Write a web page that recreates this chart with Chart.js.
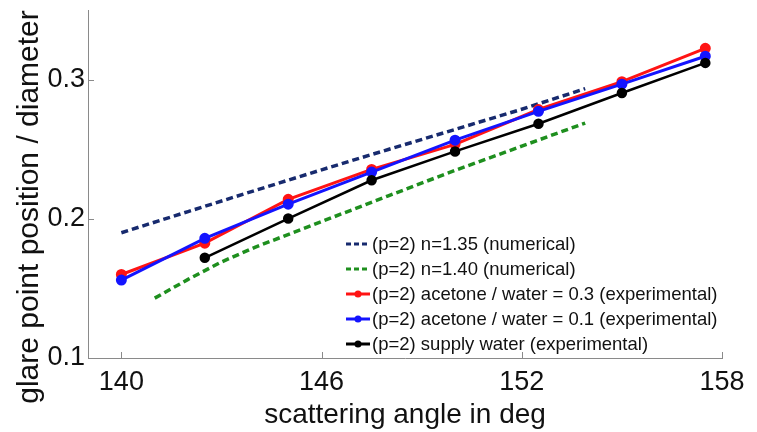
<!DOCTYPE html>
<html>
<head>
<meta charset="utf-8">
<script src="https://cdn.jsdelivr.net/npm/chart.js@4.4.1/dist/chart.umd.min.js"></script>
<style>
  html, body { margin: 0; padding: 0; background: #fff; }
  #wrap { position: relative; width: 757px; height: 432px; }
  #legend {
    position: absolute; left: 345px; top: 231px;
    font-family: "Liberation Sans", Arial, sans-serif; font-size: 18.5px; color: #111;
  }
  .row { display: flex; align-items: center; height: 25px; white-space: nowrap; }
  .row svg { margin-right: 1px; }
</style>
</head>
<body>
<div id="wrap">
  <canvas id="glareChart" width="757" height="432"></canvas>
  <div id="legend"></div>
</div>
<script>
// scattering angles of the measurements
const expAngle = [140, 142.5, 145, 147.5, 150, 152.5, 155, 157.5];
const acetone03 = [0.160, 0.1825, 0.214, 0.2355, 0.2535, 0.2785, 0.2985, 0.3225];
const acetone01 = [0.156, 0.186, 0.2105, 0.2336, 0.2565, 0.2772, 0.2967, 0.3168];
const supplyWater = [null, 0.172, 0.2002, 0.2277, 0.2484, 0.2683, 0.2904, 0.312];

// numerical curves
const n135Angle = [140, 142, 144, 146, 148, 150, 152, 153.9];
const n135 = [0.190, 0.2052, 0.2203, 0.2352, 0.2498, 0.2642, 0.2787, 0.2935];
const n140Angle = [141, 142, 143, 144, 146, 148, 150, 152, 153.9];
const n140 = [0.143, 0.1565, 0.169, 0.1795, 0.198, 0.2165, 0.2348, 0.2522, 0.2688];

const xTicks = [140, 146, 152, 158];
const yTicks = [0.1, 0.2, 0.3];

const labels = [
  '(p=2) n=1.35 (numerical)',
  '(p=2) n=1.40 (numerical)',
  '(p=2) acetone / water = 0.3 (experimental)',
  '(p=2) acetone / water = 0.1 (experimental)',
  '(p=2) supply water (experimental)'
];
const colors = ['#172a6e', '#1e8f1e', '#ff1414', '#1414ff', '#000000'];

const pts = (xs, ys) => xs.map((x, i) => ({ x: x, y: ys[i] }));

const FONT = '"Liberation Sans", Arial, sans-serif';

// small inward tick marks, matlab style
const innerTicks = {
  id: 'innerTicks',
  afterDraw(chart) {
    const c = chart.ctx, xs = chart.scales.x, ys = chart.scales.y;
    const a = chart.chartArea;
    c.save();
    c.strokeStyle = '#8a8a8a';
    c.lineWidth = 1;
    c.beginPath();
    xs.ticks.forEach(t => {
      const px = Math.round(xs.getPixelForValue(t.value)) + 0.5;
      c.moveTo(px, a.bottom); c.lineTo(px, a.bottom - 6);
    });
    ys.ticks.forEach(t => {
      const py = Math.round(ys.getPixelForValue(t.value)) + 0.5;
      c.moveTo(a.left, py); c.lineTo(a.left + 6, py);
    });
    c.stroke();
    // y axis title
    c.fillStyle = '#111';
    c.font = '30px ' + FONT;
    c.textAlign = 'center';
    c.textBaseline = 'middle';
    c.translate(30, 207);
    c.rotate(-Math.PI / 2);
    c.fillText('glare point position / diameter', 0, 0);
    c.restore();
  }
};

const dashed = [7, 4];
const ctx = document.getElementById('glareChart').getContext('2d');
const chart = new Chart(ctx, {
  type: 'line',
  data: {
    datasets: [
      { label: labels[0], data: pts(n135Angle, n135), borderColor: colors[0], borderWidth: 3.5, borderDash: dashed, pointRadius: 0, order: 5 },
      { label: labels[1], data: pts(n140Angle, n140), borderColor: colors[1], borderWidth: 3.5, borderDash: dashed, pointRadius: 0, order: 4 },
      { label: labels[2], data: pts(expAngle, acetone03), borderColor: colors[2], backgroundColor: colors[2], borderWidth: 3, pointRadius: 4, order: 3 },
      { label: labels[3], data: pts(expAngle, acetone01), borderColor: colors[3], backgroundColor: colors[3], borderWidth: 3, pointRadius: 4, order: 2 },
      { label: labels[4], data: pts(expAngle, supplyWater), borderColor: colors[4], backgroundColor: colors[4], borderWidth: 2.5, pointRadius: 4, order: 1 }
    ]
  },
  options: {
    responsive: false,
    animation: false,
    devicePixelRatio: 1,
    layout: { padding: { top: 10, right: 35, left: 0, bottom: 0 } },
    plugins: { legend: { display: false }, tooltip: { enabled: false } },
    elements: { line: { tension: 0 }, point: { borderWidth: 0 } },
    scales: {
      x: {
        type: 'linear', min: 139, max: 158,
        afterBuildTicks: s => { s.ticks = xTicks.map(v => ({ value: v })); },
        afterFit: s => { s.height = 74; },
        grid: { display: false, drawTicks: false },
        border: { display: true, color: '#8a8a8a', width: 1 },
        ticks: { font: { family: FONT, size: 27 }, color: '#111', padding: 8, maxRotation: 0 },
        title: { display: true, text: 'scattering angle in deg', font: { family: FONT, size: 28 }, color: '#111', padding: { top: 0, bottom: 0 } }
      },
      y: {
        type: 'linear', min: 0.1, max: 0.35,
        afterBuildTicks: s => { s.ticks = yTicks.map(v => ({ value: v })); },
        // top tick is 0.3, so no label overhang at the top of the axis
        afterFit: s => { s.width = 88; s.paddingTop = 0; },
        grid: { display: false, drawTicks: false },
        border: { display: true, color: '#8a8a8a', width: 1 },
        ticks: { font: { family: FONT, size: 27 }, color: '#111', padding: 3, callback: v => v.toFixed(1) }
      }
    }
  },
  plugins: [innerTicks]
});

// legend built from the datasets
const legend = document.getElementById('legend');
chart.data.datasets.forEach(ds => {
  const row = document.createElement('div');
  row.className = 'row';
  const isDash = !!ds.borderDash;
  const sw = isDash
    ? `<svg width="26" height="12"><line x1="1" y1="6" x2="25" y2="6" stroke="${ds.borderColor}" stroke-width="3" stroke-dasharray="5,3"/></svg>`
    : `<svg width="26" height="12"><line x1="1" y1="6" x2="25" y2="6" stroke="${ds.borderColor}" stroke-width="3"/><circle cx="13" cy="6" r="3.5" fill="${ds.borderColor}"/></svg>`;
  row.innerHTML = sw + '<span>' + ds.label + '</span>';
  legend.appendChild(row);
});
</script>
</body>
</html>
